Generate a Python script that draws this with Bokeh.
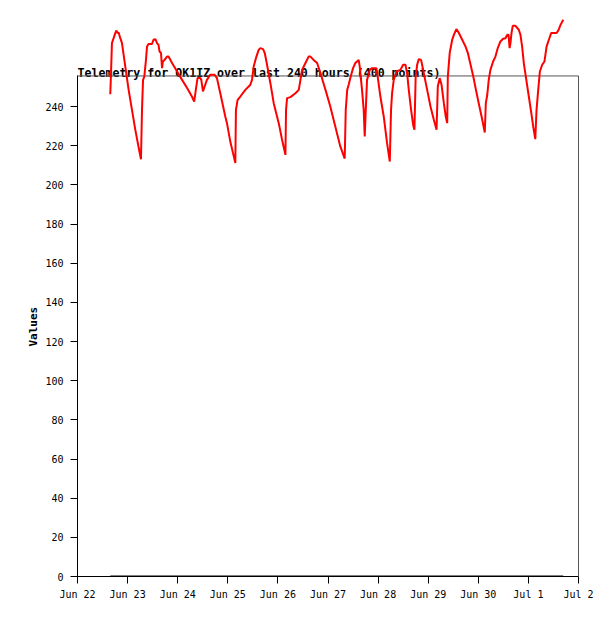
import math
from bokeh.plotting import figure
from bokeh.models import FixedTicker, Range1d, Title
from bokeh.core.properties import value
from bokeh.embed import file_html
from bokeh.resources import INLINE

# ---- data (hours since Jun 22 00:00) ----
hours = [
    15.7, 16.0, 16.5, 17.3, 18.1, 18.6, 19.2, 19.7, 20.5, 21.3,
    22.9, 24.5, 26.1, 27.7, 29.2, 30.4, 30.9, 31.4, 32.0, 32.8,
    33.3, 34.0, 35.7, 36.4, 37.3, 38.1, 38.8, 39.3, 40.0, 40.5,
    40.9, 41.7, 42.9, 43.6, 45.3, 47.7, 50.1, 52.5, 54.8, 55.9,
    56.8, 57.5, 58.8, 59.3, 60.1, 60.9, 62.0, 63.6, 65.7, 66.8,
    68.4, 70.8, 71.6, 73.2, 74.5, 75.6, 75.9, 76.7, 78.0, 80.4,
    82.8, 83.6, 84.4, 85.7, 86.8, 87.6, 88.9, 89.7, 90.8, 92.4,
    94.0, 96.4, 98.0, 99.6, 99.9, 100.4, 102.0, 104.4, 106.0, 106.8,
    107.6, 109.2, 110.7, 111.6, 113.1, 114.8, 116.4, 118.8, 121.1, 123.5,
    125.9, 128.0, 128.5, 129.2, 129.9, 130.7, 132.0, 133.1, 134.7, 135.2,
    136.3, 137.1, 137.6, 138.1, 138.7, 140.0, 141.1, 143.2, 143.8, 145.1,
    146.7, 148.3, 149.6, 150.2, 150.7, 151.5, 152.8, 154.7, 156.0, 157.1,
    157.9, 158.7, 159.8, 160.8, 161.4, 162.0, 162.7, 163.5, 164.6, 165.9,
    167.5, 169.1, 170.7, 172.0, 172.6, 173.5, 174.4, 175.5, 176.4, 177.1,
    177.4, 178.3, 179.5, 180.3, 181.5, 182.7, 184.3, 185.9, 187.0, 188.3,
    189.6, 190.7, 192.2, 193.9, 195.1, 195.6, 196.3, 197.0, 197.8, 199.1,
    200.2, 201.3, 202.6, 203.9, 205.0, 205.9, 206.5, 207.0, 207.4, 207.9,
    208.5, 209.8, 211.4, 212.2, 213.0, 213.8, 215.0, 216.2, 217.4, 218.3,
    219.3, 219.9, 220.7, 221.5, 222.6, 223.7, 224.7, 225.8, 226.9, 228.2,
    229.5, 230.3, 231.4, 232.7,
]
values = [
    246.3, 255.3, 272.4, 274.9, 277.5, 278.8, 277.5, 277.8, 274.9, 272.4,
    260.4, 248.5, 238.3, 228.1, 219.6, 213.1, 238.3, 253.6, 255.3, 263.8,
    270.6, 271.9, 271.9, 274.1, 274.4, 272.4, 271.5, 268.1, 267.3, 259.6,
    263.0, 263.8, 265.5, 265.5, 262.2, 257.9, 253.6, 249.4, 245.1, 242.5,
    249.4, 254.5, 254.5, 253.6, 247.7, 250.2, 253.6, 256.2, 256.2, 254.5,
    246.8, 234.9, 231.5, 222.1, 216.2, 211.1, 238.3, 243.4, 245.1, 248.5,
    251.1, 253.6, 260.4, 265.5, 268.9, 269.8, 269.3, 267.3, 261.3, 251.9,
    241.7, 231.5, 223.0, 215.3, 238.3, 244.3, 244.8, 246.8, 248.5, 253.6,
    258.7, 262.2, 265.5, 265.5, 263.8, 262.2, 257.0, 248.5, 240.0, 229.8,
    219.6, 213.4, 238.3, 248.5, 251.1, 254.5, 259.6, 262.2, 263.8, 260.4,
    248.5, 238.3, 224.7, 238.3, 253.6, 258.7, 259.6, 259.6, 255.3, 245.1,
    234.9, 221.3, 211.9, 238.3, 246.8, 253.6, 257.9, 258.7, 261.3, 261.3,
    257.0, 248.5, 238.3, 230.6, 228.1, 255.3, 261.3, 264.2, 263.8, 257.0,
    248.5, 240.0, 233.2, 228.1, 250.2, 254.5, 251.1, 241.7, 234.9, 231.5,
    255.3, 267.3, 274.1, 276.6, 279.5, 277.5, 274.1, 270.6, 267.3, 261.3,
    255.3, 249.4, 241.7, 233.2, 226.7, 241.7, 246.0, 253.6, 258.7, 263.0,
    265.5, 269.8, 273.2, 274.6, 274.9, 276.6, 276.6, 269.8, 272.4, 277.5,
    281.2, 281.2, 279.2, 276.6, 270.6, 262.2, 253.6, 245.1, 236.6, 229.8,
    223.3, 238.3, 248.5, 257.9, 261.3, 263.0, 270.6, 274.1, 277.5, 277.5,
    277.5, 278.8, 281.7, 284.3,
]
zero_series = [0.0] * len(hours)

x_tick_hours = [0, 24, 48, 72, 96, 120, 144, 168, 192, 216, 240]
x_tick_labels = ["Jun 22", "Jun 23", "Jun 24", "Jun 25", "Jun 26", "Jun 27",
                 "Jun 28", "Jun 29", "Jun 30", "Jul 1", "Jul 2"]
y_ticks = [0, 20, 40, 60, 80, 100, 120, 140, 160, 180, 200, 220, 240]
title_text = "Telemetry for OK1IZ over last 240 hours (400 points)"
y_label = "Values"

# ---- layout constants ----
PX_PER_HOUR = 50.1 / 24.0
PX_PER_UNIT = 1.9583
FRAME_W = 503
FRAME_H = 568
BOX_TOP = 255.6
BOX_RIGHT = 240
LEFT = 77
TOP = 8
BOTTOM = 32
W = 608

p = figure(width=W, height=TOP + FRAME_H + BOTTOM, output_backend="svg", toolbar_location=None,
           x_range=Range1d(0, FRAME_W / PX_PER_HOUR),
           y_range=Range1d(0, FRAME_H / PX_PER_UNIT),
           min_border_left=LEFT, min_border_right=W - LEFT - FRAME_W,
           min_border_top=TOP, min_border_bottom=BOTTOM)
p.grid.visible = False
p.outline_line_color = None
p.background_fill_color = "white"
p.border_fill_color = "white"

mono = "DejaVu Sans Mono"
for ax in (p.xaxis[0], p.yaxis[0]):
    ax.axis_line_color = "black"
    ax.axis_line_width = 1
    ax.major_tick_line_color = "black"
    ax.major_tick_in = 0
    ax.major_tick_out = 7
    ax.minor_tick_line_color = None
    ax.major_label_text_font = mono
    ax.major_label_text_font_size = "10px"
    ax.major_label_text_color = "black"

p.xaxis.ticker = FixedTicker(ticks=x_tick_hours)
p.xaxis.major_label_overrides = {h: l for h, l in zip(x_tick_hours, x_tick_labels)}
p.xaxis.bounds = (0, BOX_RIGHT)
p.xaxis.major_label_standoff = 5

p.yaxis.ticker = FixedTicker(ticks=y_ticks)
p.yaxis.bounds = (0, BOX_TOP)
p.yaxis.major_label_standoff = 7

# y-axis label as a left-side title, shifted to the middle of the box
p.add_layout(Title(text=y_label, align="left", offset=230, standoff=6,
                   text_font=mono, text_font_style="bold", text_font_size="11px",
                   text_color="black"), "left")

# title
p.text(x=[0], y=[BOX_TOP + 2.7 / PX_PER_UNIT], text=[title_text],
       text_font=value(mono), text_font_style="bold", text_font_size="11.6px",
       text_baseline="alphabetic", text_align="left", text_color="black")

# gray box (top and right)
p.segment(x0=[0, BOX_RIGHT], y0=[BOX_TOP, 0], x1=[BOX_RIGHT, BOX_RIGHT], y1=[BOX_TOP, BOX_TOP],
          line_color="#555555", line_width=1)

# series
p.line(hours, zero_series, line_color="black", line_width=2)
p.line(hours, values, line_color="#ff0000", line_width=2)

open("out.html", "w").write(file_html(p, INLINE))
